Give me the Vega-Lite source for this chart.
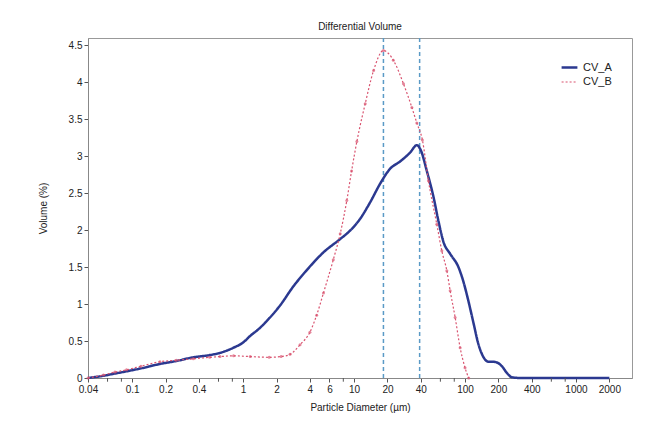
{
  "$schema": "https://vega.github.io/schema/vega-lite/v6.json",
  "width": 544,
  "height": 340,
  "autosize": "none",
  "padding": {"left": 88, "top": 38, "right": 17, "bottom": 52},
  "background": "white",
  "title": {"text": "Differential Volume", "fontSize": 10, "font": "Liberation Sans", "fontWeight": "normal", "color": "#222", "offset": 5},
  "config": {
    "view": {"stroke": "#999"},
    "axis": {"labelFont": "Liberation Sans", "titleFont": "Liberation Sans", "labelFontSize": 10, "titleFontSize": 10, "titleFontWeight": "normal", "labelColor": "#222", "titleColor": "#222", "tickColor": "#555", "domainColor": "#888", "grid": false, "tickSize": 4, "labelOverlap": false},
    "axisY": {"values": [0, 0.5, 1, 1.5, 2, 2.5, 3, 3.5, 4, 4.5], "format": "~g", "titlePadding": 20},
    "legend": {"labelFont": "Liberation Sans", "labelFontSize": 11, "labelColor": "#222"}
  },
  "datasets": {
    "markers": [{"d": 18.4}, {"d": 39}],
    "minor": [{"d": 0.06}, {"d": 0.08}, {"d": 0.6}, {"d": 0.8}, {"d": 8}, {"d": 60}, {"d": 80}, {"d": 600}, {"d": 800}],
    "curves": [
      {"series": "CV_A", "d": 0.04, "v": 0},
      {"series": "CV_A", "d": 0.055, "v": 0.03},
      {"series": "CV_A", "d": 0.07, "v": 0.06},
      {"series": "CV_A", "d": 0.089, "v": 0.09},
      {"series": "CV_A", "d": 0.12, "v": 0.13},
      {"series": "CV_A", "d": 0.178, "v": 0.19},
      {"series": "CV_A", "d": 0.25, "v": 0.23},
      {"series": "CV_A", "d": 0.356, "v": 0.28},
      {"series": "CV_A", "d": 0.5, "v": 0.31},
      {"series": "CV_A", "d": 0.62, "v": 0.34},
      {"series": "CV_A", "d": 0.82, "v": 0.41},
      {"series": "CV_A", "d": 1.0, "v": 0.48},
      {"series": "CV_A", "d": 1.16, "v": 0.57},
      {"series": "CV_A", "d": 1.4, "v": 0.67},
      {"series": "CV_A", "d": 1.63, "v": 0.77},
      {"series": "CV_A", "d": 2.15, "v": 0.98},
      {"series": "CV_A", "d": 2.84, "v": 1.24},
      {"series": "CV_A", "d": 3.75, "v": 1.46},
      {"series": "CV_A", "d": 5.3, "v": 1.7},
      {"series": "CV_A", "d": 7.5, "v": 1.88},
      {"series": "CV_A", "d": 9.3, "v": 2.0},
      {"series": "CV_A", "d": 11.3, "v": 2.15},
      {"series": "CV_A", "d": 14, "v": 2.38},
      {"series": "CV_A", "d": 17.2, "v": 2.63},
      {"series": "CV_A", "d": 21.1, "v": 2.83},
      {"series": "CV_A", "d": 26.0, "v": 2.93},
      {"series": "CV_A", "d": 32.0, "v": 3.05},
      {"series": "CV_A", "d": 36.8, "v": 3.15},
      {"series": "CV_A", "d": 40, "v": 3.08},
      {"series": "CV_A", "d": 45.3, "v": 2.8},
      {"series": "CV_A", "d": 52.0, "v": 2.45},
      {"series": "CV_A", "d": 57.7, "v": 2.12},
      {"series": "CV_A", "d": 64.0, "v": 1.84},
      {"series": "CV_A", "d": 73.5, "v": 1.68},
      {"series": "CV_A", "d": 87.3, "v": 1.5},
      {"series": "CV_A", "d": 96.9, "v": 1.3},
      {"series": "CV_A", "d": 107, "v": 1.05},
      {"series": "CV_A", "d": 119, "v": 0.75},
      {"series": "CV_A", "d": 132, "v": 0.46},
      {"series": "CV_A", "d": 147, "v": 0.28},
      {"series": "CV_A", "d": 163, "v": 0.22},
      {"series": "CV_A", "d": 180, "v": 0.22},
      {"series": "CV_A", "d": 194, "v": 0.21},
      {"series": "CV_A", "d": 215, "v": 0.16},
      {"series": "CV_A", "d": 238, "v": 0.07},
      {"series": "CV_A", "d": 265, "v": 0.01},
      {"series": "CV_A", "d": 314, "v": 0},
      {"series": "CV_A", "d": 500, "v": 0},
      {"series": "CV_A", "d": 1000, "v": 0},
      {"series": "CV_A", "d": 2000, "v": 0},
      {"series": "CV_B", "d": 0.04, "v": 0},
      {"series": "CV_B", "d": 0.055, "v": 0.04},
      {"series": "CV_B", "d": 0.07, "v": 0.08},
      {"series": "CV_B", "d": 0.089, "v": 0.11},
      {"series": "CV_B", "d": 0.12, "v": 0.16},
      {"series": "CV_B", "d": 0.178, "v": 0.22},
      {"series": "CV_B", "d": 0.25, "v": 0.24},
      {"series": "CV_B", "d": 0.356, "v": 0.26},
      {"series": "CV_B", "d": 0.5, "v": 0.28},
      {"series": "CV_B", "d": 0.62, "v": 0.29},
      {"series": "CV_B", "d": 0.82, "v": 0.3},
      {"series": "CV_B", "d": 1.16, "v": 0.29},
      {"series": "CV_B", "d": 1.72, "v": 0.28},
      {"series": "CV_B", "d": 2.2, "v": 0.29},
      {"series": "CV_B", "d": 2.65, "v": 0.32},
      {"series": "CV_B", "d": 3.26, "v": 0.45},
      {"series": "CV_B", "d": 4.0, "v": 0.62},
      {"series": "CV_B", "d": 4.6, "v": 0.85},
      {"series": "CV_B", "d": 5.3, "v": 1.15},
      {"series": "CV_B", "d": 6.5, "v": 1.6},
      {"series": "CV_B", "d": 7.5, "v": 1.95},
      {"series": "CV_B", "d": 8.6, "v": 2.4},
      {"series": "CV_B", "d": 9.5, "v": 2.8},
      {"series": "CV_B", "d": 10.6, "v": 3.2},
      {"series": "CV_B", "d": 12.6, "v": 3.71},
      {"series": "CV_B", "d": 15.0, "v": 4.16},
      {"series": "CV_B", "d": 18.4, "v": 4.43},
      {"series": "CV_B", "d": 22.6, "v": 4.3},
      {"series": "CV_B", "d": 27.9, "v": 3.98},
      {"series": "CV_B", "d": 33.2, "v": 3.66},
      {"series": "CV_B", "d": 36.8, "v": 3.45},
      {"series": "CV_B", "d": 41.3, "v": 3.22},
      {"series": "CV_B", "d": 46.8, "v": 2.67},
      {"series": "CV_B", "d": 55.7, "v": 2.08},
      {"series": "CV_B", "d": 61.8, "v": 1.72},
      {"series": "CV_B", "d": 68.6, "v": 1.45},
      {"series": "CV_B", "d": 73.5, "v": 1.18},
      {"series": "CV_B", "d": 81.5, "v": 0.82},
      {"series": "CV_B", "d": 90.4, "v": 0.41},
      {"series": "CV_B", "d": 100, "v": 0.14},
      {"series": "CV_B", "d": 108, "v": 0}
    ]
  },
  "encoding": {
    "x": {"field": "d", "type": "quantitative", "title": "Particle Diameter (µm)",
      "scale": {"type": "log", "domain": [0.04, 3200], "nice": false},
      "axis": {"values": [0.04, 0.1, 0.2, 0.4, 1, 2, 4, 6, 10, 20, 40, 100, 200, 400, 1000, 2000], "format": "~g", "labelFlush": false, "titlePadding": 8}}
  },
  "layer": [
    {
      "data": {"name": "markers"},
      "mark": {"type": "rule", "strokeDash": [4, 3], "color": "#5a9ac6", "strokeWidth": 1.5}
    },
    {
      "data": {"name": "curves"},
      "mark": {"type": "line", "interpolate": "monotone"},
      "encoding": {
        "y": {"field": "v", "type": "quantitative", "title": "Volume (%)",
          "scale": {"domain": [0, 4.6], "nice": false}},
        "color": {"field": "series", "type": "nominal", "scale": {"domain": ["CV_A", "CV_B"], "range": ["#2b3990", "#d9536f"]},
          "legend": {"title": null, "orient": "top-right", "offset": 20, "symbolType": "stroke", "symbolStrokeWidth": 2.5, "symbolSize": 250, "rowPadding": 0}},
        "strokeDash": {"field": "series", "type": "nominal", "scale": {"domain": ["CV_A", "CV_B"], "range": [[1, 0], [2, 2]]}},
        "strokeWidth": {"field": "series", "type": "ordinal", "scale": {"domain": ["CV_A", "CV_B"], "range": [2.5, 1.2]}, "legend": null}
      }
    },
    {
      "data": {"name": "curves"},
      "transform": [{"filter": "datum.series == 'CV_B'"}],
      "mark": {"type": "point", "filled": true, "size": 9, "color": "#d9536f"},
      "encoding": {
        "y": {"field": "v", "type": "quantitative", "title": "Volume (%)"}
      }
    },
    {
      "data": {"name": "minor"},
      "mark": {"type": "rule", "clip": false, "color": "#555", "strokeWidth": 1},
      "encoding": {
        "y": {"datum": 0, "type": "quantitative", "title": "Volume (%)"},
        "y2": {"datum": -0.05}
      }
    }
  ]
}
